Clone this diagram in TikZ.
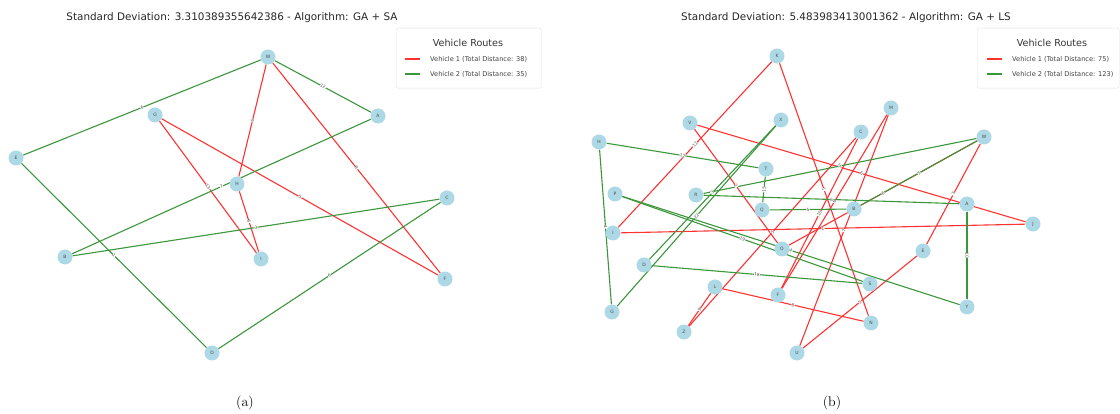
\documentclass[tikz,border=0pt]{standalone}
\usepackage{fontspec}
\newfontfamily\plotfont{DejaVu Sans}
\usetikzlibrary{backgrounds}
\definecolor{routeone}{RGB}{255,50,50}
\definecolor{routetwo}{RGB}{60,150,60}
\definecolor{citycol}{RGB}{173,216,230}

\begin{document}
\begin{tikzpicture}[x=1pt,y=-1pt,
  city/.style={circle,fill=citycol,minimum size=15pt,inner sep=0pt,
    font=\plotfont\fontsize{4.5}{5}\selectfont,text=black!70},
  vone/.style={draw=routeone,line width=1.1pt},
  vtwo/.style={draw=routetwo,line width=1.1pt},
  elabel/.style={sloped,fill=white,inner sep=0.2pt,
    font=\plotfont\fontsize{4.3}{5}\selectfont,text=black!70},
  ptitle/.style={font=\plotfont\fontsize{10.4}{12}\selectfont,text=black!85},
  legbox/.style={draw=black!12,fill=white,rounded corners=2pt,
    minimum height=60pt,anchor=north west,inner sep=0pt},
  legtitle/.style={font=\plotfont\fontsize{9.6}{11}\selectfont,text=black!80},
  legentry/.style={font=\plotfont\fontsize{6.6}{8}\selectfont,text=black!75,
    anchor=west,inner sep=0pt},
  caption/.style={font=\fontsize{14}{16}\selectfont}]
\useasboundingbox (0,0) rectangle (1120,414);

\begin{scope}
  \node[ptitle] (atitle) at (232,18) {Standard Deviation: 3.310389355642386 - Algorithm: GA + SA};
  \foreach \n/\x/\y in {W/268/57,G/155/115,A/378/116,E/16/158,H/237/184,
      C/447/198,B/65/257,I/261/259,F/445/279,D/212/353}
    \node[city] (a\n) at (\x,\y) {\n};
  \foreach \p/\q/\l in {W/H/6,H/I/6,I/G/13,G/F/5,F/W/8}{
    \begin{pgfonlayer}{background}
      \draw[vone] (a\p) -- (a\q);
    \end{pgfonlayer}
    \path (a\p) -- node[elabel] {\l} (a\q);
  }
  \foreach \p/\q/\l in {W/E/6,W/A/12,A/B/7,B/C/3,C/D/6,D/E/1}{
    \begin{pgfonlayer}{background}
      \draw[vtwo] (a\p) -- (a\q);
    \end{pgfonlayer}
    \path (a\p) -- node[elabel] {\l} (a\q);
  }
  \node[legbox,minimum width=145pt] (alegend) at (396,28) {};
  \node[legtitle] (alegtitle) at (468,43) {Vehicle Routes};
  \node[legentry] (aleg1) at (430,59) {Vehicle 1 (Total Distance: 38)};
  \node[legentry] (aleg2) at (430,74) {Vehicle 2 (Total Distance: 35)};
  \draw[vone] ([xshift=-25pt]aleg1.west) -- ([xshift=-10pt]aleg1.west);
  \draw[vtwo] ([xshift=-25pt]aleg2.west) -- ([xshift=-10pt]aleg2.west);
  \node[caption] (acap) at (245,403) {(a)};
\end{scope}

\begin{scope}
  \node[ptitle] (btitle) at (846,18) {Standard Deviation: 5.483983413001362 - Algorithm: GA + LS};
  \foreach \n/\x/\y in {K/777/56,M/891/108,V/690/123,X/781/120,C/861/132,
      H/599/142,W/984/137,T/766/169,P/615/194,R/696/195,Q/762/210,B/854/209,
      A/967/204,J/1033/224,I/613/233,O/782/249,E/923/251,D/644/265,L/715/287,
      S/870/284,F/778/295,Y/967/307,G/612/312,N/871/323,Z/684/332,U/797/353}
    \node[city] (b\n) at (\x,\y) {\n};
  \foreach \p/\q/\l in {W/E/7,E/U/5,U/M/7,M/F/6,F/C/10,C/Z/5,Z/L/9,L/N/8,
      N/K/1,K/I/12,I/J/1,J/V/6,V/O/2,O/W/6}{
    \begin{pgfonlayer}{background}
      \draw[vone] (b\p) -- (b\q);
    \end{pgfonlayer}
    \path (b\p) -- node[elabel] {\l} (b\q);
  }
  \foreach \p/\q/\l in {H/T/12,T/Q/15,Q/B/5,B/W/5,W/R/5,R/A/6,A/Y/10,
      Y/P/4,P/S/19,S/D/18,D/X/3,X/G/22,G/H/4}{
    \begin{pgfonlayer}{background}
      \draw[vtwo] (b\p) -- (b\q);
    \end{pgfonlayer}
    \path (b\p) -- node[elabel] {\l} (b\q);
  }
  \node[legbox,minimum width=142pt] (blegend) at (977,28) {};
  \node[legtitle] (blegtitle) at (1052,43) {Vehicle Routes};
  \node[legentry] (bleg1) at (1012,59) {Vehicle 1 (Total Distance: 75)};
  \node[legentry] (bleg2) at (1012,74) {Vehicle 2 (Total Distance: 123)};
  \draw[vone] ([xshift=-25pt]bleg1.west) -- ([xshift=-10pt]bleg1.west);
  \draw[vtwo] ([xshift=-25pt]bleg2.west) -- ([xshift=-10pt]bleg2.west);
  \node[caption] (bcap) at (832,403) {(b)};
\end{scope}
\end{tikzpicture}
\end{document}
